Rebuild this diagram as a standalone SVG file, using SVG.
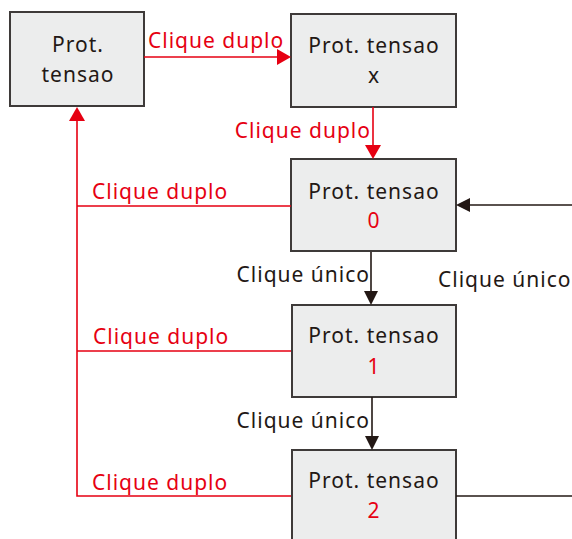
<svg xmlns="http://www.w3.org/2000/svg" width="572" height="539" viewBox="0 0 572 539">
<style>
.box{fill:#eceded;stroke:#3e3a39;stroke-width:2}
text{font-family:"Noto Sans","Liberation Sans",sans-serif;font-size:21px;letter-spacing:1px}
.t{fill:#231815;text-anchor:middle}
.r{fill:#e60012}
.k{fill:#231815}
.lr{stroke:#e60012;stroke-width:1.6;fill:none}
.lk{stroke:#231815;stroke-width:1.6;fill:none}
</style>
<g id="nodeA"><rect class="box" x="10" y="12" width="134" height="94"/><text class="t" x="78" y="52">Prot.</text><text class="t" x="78" y="82">tensao</text></g>
<g id="nodeX"><rect class="box" x="291" y="14" width="165" height="93"/><text class="t" x="374" y="53">Prot. tensao</text><text class="t" x="374" y="83">x</text></g>
<g id="node0"><rect class="box" x="291" y="159" width="165" height="92"/><text class="t" x="374" y="199">Prot. tensao</text><text class="t r" x="374" y="228">0</text></g>
<g id="node1"><rect class="box" x="292" y="305" width="164" height="92"/><text class="t" x="374" y="343">Prot. tensao</text><text class="t r" x="374" y="374">1</text></g>
<g id="node2"><rect class="box" x="292" y="450" width="164" height="100"/><text class="t" x="374" y="488">Prot. tensao</text><text class="t r" x="374" y="518">2</text></g>
<g id="connectors">
<path class="lr" d="M144,57H277"/><path d="M277,49L291,57L277,65z" fill="#e60012"/>
<text class="r" x="148" y="48">Clique duplo</text>
<path class="lr" d="M373,107V145"/><path d="M365,145L373,159L381,145z" fill="#e60012"/>
<text class="r" x="371" y="138" text-anchor="end">Clique duplo</text>
<path class="lr" d="M291,206H77M291,351H77M291,496H77V121"/><path d="M69,121L77,107L85,121z" fill="#e60012"/>
<text class="r" x="92" y="199">Clique duplo</text>
<text class="r" x="93" y="344">Clique duplo</text>
<text class="r" x="92" y="490">Clique duplo</text>
<path class="lk" d="M371,252V292"/><path d="M364,291L371,305L378,291z" fill="#231815"/>
<text class="k" x="370" y="282" text-anchor="end">Clique único</text>
<path class="lk" d="M372,397V437"/><path d="M365,436L372,450L379,436z" fill="#231815"/>
<text class="k" x="370" y="428" text-anchor="end">Clique único</text>
<path class="lk" d="M572,205H469"/><path d="M470,198L456,205L470,212z" fill="#231815"/>
<text class="k" x="438" y="287">Clique único</text>
<path class="lk" d="M456,496H572"/>
</g>
</svg>
